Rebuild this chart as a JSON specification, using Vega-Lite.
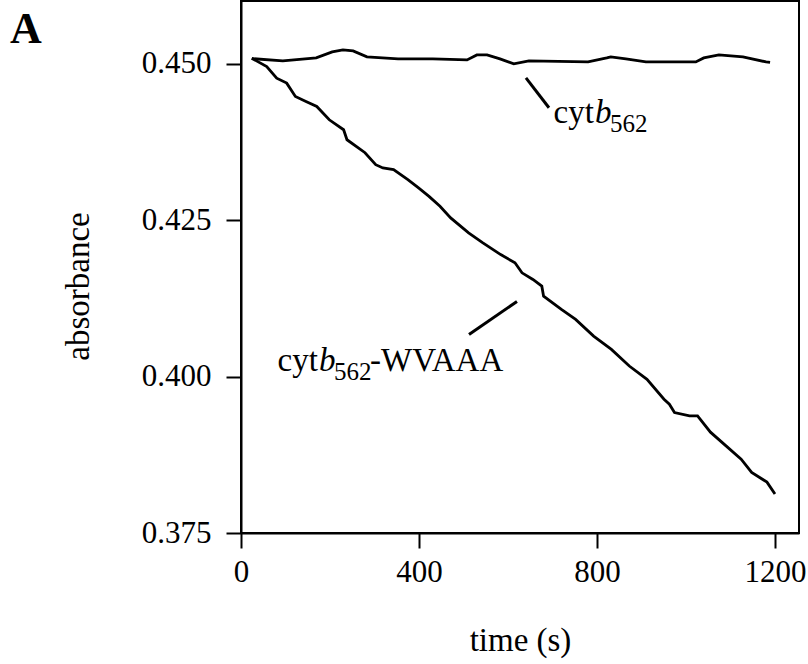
{
  "$schema": "https://vega.github.io/schema/vega-lite/v6.json",
  "autosize": {"type": "none"},
  "padding": {"left": 241, "top": 1, "right": 9, "bottom": 130},
  "width": 558,
  "height": 532,
  "background": "white",
  "config": {
    "view": {"stroke": "black", "strokeWidth": 2},
    "axis": {
      "grid": false,
      "domainColor": "black",
      "domainWidth": 2,
      "tickColor": "black",
      "tickWidth": 2,
      "tickSize": 15,
      "labelColor": "black",
      "labelFont": "Liberation Serif",
      "labelFontSize": 31,
      "titleColor": "black",
      "titleFont": "Liberation Serif",
      "titleFontSize": 33,
      "titleFontWeight": "normal"
    }
  },
  "datasets": {
    "traces": [
      {"s": "cytb562", "t": 24.7, "a": 0.4508},
      {"s": "cytb562", "t": 94, "a": 0.45043},
      {"s": "cytb562", "t": 169, "a": 0.45091},
      {"s": "cytb562", "t": 205, "a": 0.45187},
      {"s": "cytb562", "t": 229, "a": 0.45219},
      {"s": "cytb562", "t": 252, "a": 0.45203},
      {"s": "cytb562", "t": 283, "a": 0.45107},
      {"s": "cytb562", "t": 353, "a": 0.45075},
      {"s": "cytb562", "t": 431, "a": 0.45075},
      {"s": "cytb562", "t": 508, "a": 0.45059},
      {"s": "cytb562", "t": 530, "a": 0.45139},
      {"s": "cytb562", "t": 553, "a": 0.45139},
      {"s": "cytb562", "t": 582, "a": 0.45075},
      {"s": "cytb562", "t": 613, "a": 0.44995},
      {"s": "cytb562", "t": 647, "a": 0.45043},
      {"s": "cytb562", "t": 780, "a": 0.45027},
      {"s": "cytb562", "t": 822, "a": 0.45091},
      {"s": "cytb562", "t": 831, "a": 0.45107},
      {"s": "cytb562", "t": 865, "a": 0.45075},
      {"s": "cytb562", "t": 910, "a": 0.45027},
      {"s": "cytb562", "t": 1022, "a": 0.45027},
      {"s": "cytb562", "t": 1040, "a": 0.45091},
      {"s": "cytb562", "t": 1074, "a": 0.45139},
      {"s": "cytb562", "t": 1128, "a": 0.45107},
      {"s": "cytb562", "t": 1180, "a": 0.45027},
      {"s": "cytb562", "t": 1189, "a": 0.45019},
      {"s": "WVAAA", "t": 24, "a": 0.45086},
      {"s": "WVAAA", "t": 57.8, "a": 0.44952},
      {"s": "WVAAA", "t": 80.2, "a": 0.44767},
      {"s": "WVAAA", "t": 102.7, "a": 0.44688},
      {"s": "WVAAA", "t": 122.2, "a": 0.44474},
      {"s": "WVAAA", "t": 146, "a": 0.44394},
      {"s": "WVAAA", "t": 170.3, "a": 0.44314},
      {"s": "WVAAA", "t": 198.4, "a": 0.44102},
      {"s": "WVAAA", "t": 230.6, "a": 0.43943},
      {"s": "WVAAA", "t": 238.2, "a": 0.43783},
      {"s": "WVAAA", "t": 278.7, "a": 0.43576},
      {"s": "WVAAA", "t": 302.7, "a": 0.43385},
      {"s": "WVAAA", "t": 318.9, "a": 0.43332},
      {"s": "WVAAA", "t": 342.9, "a": 0.43305},
      {"s": "WVAAA", "t": 375, "a": 0.43145},
      {"s": "WVAAA", "t": 399, "a": 0.43013},
      {"s": "WVAAA", "t": 422.5, "a": 0.42879},
      {"s": "WVAAA", "t": 447.2, "a": 0.4272},
      {"s": "WVAAA", "t": 471.2, "a": 0.42535},
      {"s": "WVAAA", "t": 511.5, "a": 0.42295},
      {"s": "WVAAA", "t": 543.6, "a": 0.42136},
      {"s": "WVAAA", "t": 583.6, "a": 0.41949},
      {"s": "WVAAA", "t": 615.7, "a": 0.41817},
      {"s": "WVAAA", "t": 631.5, "a": 0.41657},
      {"s": "WVAAA", "t": 656, "a": 0.41551},
      {"s": "WVAAA", "t": 676, "a": 0.41444},
      {"s": "WVAAA", "t": 680, "a": 0.41284},
      {"s": "WVAAA", "t": 720, "a": 0.41072},
      {"s": "WVAAA", "t": 752, "a": 0.40913},
      {"s": "WVAAA", "t": 792.4, "a": 0.40646},
      {"s": "WVAAA", "t": 832.4, "a": 0.40434},
      {"s": "WVAAA", "t": 872.6, "a": 0.40168},
      {"s": "WVAAA", "t": 912.4, "a": 0.39956},
      {"s": "WVAAA", "t": 950.6, "a": 0.39637},
      {"s": "WVAAA", "t": 962.7, "a": 0.39557},
      {"s": "WVAAA", "t": 974.2, "a": 0.39425},
      {"s": "WVAAA", "t": 1008, "a": 0.39371},
      {"s": "WVAAA", "t": 1026, "a": 0.39371},
      {"s": "WVAAA", "t": 1055, "a": 0.39111},
      {"s": "WVAAA", "t": 1090, "a": 0.38892},
      {"s": "WVAAA", "t": 1124, "a": 0.3868},
      {"s": "WVAAA", "t": 1147.6, "a": 0.38468},
      {"s": "WVAAA", "t": 1182, "a": 0.38313},
      {"s": "WVAAA", "t": 1200, "a": 0.38122}
    ],
    "leaders": [
      {"t": 640.4, "a": 0.44772, "t2": 692.1, "a2": 0.44294},
      {"t": 512.4, "a": 0.40673, "t2": 620.2, "a2": 0.4120}
    ],
    "plain": [
      {"t": 702.5, "a": 0.44054, "label": "cyt"},
      {"t": 82, "a": 0.40083, "label": "cyt"},
      {"t": 290, "a": 0.40083, "label": "-WVAAA"}
    ],
    "italic": [
      {"t": 795.5, "a": 0.44054, "label": "b"},
      {"t": 175.3, "a": 0.40083, "label": "b"}
    ],
    "sub": [
      {"t": 829.2, "a": 0.43911, "label": "562"},
      {"t": 209, "a": 0.3994, "label": "562"}
    ],
    "panel": [
      {"t": -519, "a": 0.4533, "label": "A"}
    ]
  },
  "layer": [
    {
      "data": {"name": "traces"},
      "mark": {"type": "line", "color": "black", "strokeWidth": 2.8, "interpolate": "linear"},
      "encoding": {
        "x": {
          "field": "t", "type": "quantitative",
          "scale": {"domain": [0, 1254], "nice": false, "zero": false},
          "axis": {"values": [0, 400, 800, 1200], "format": "d", "title": "time (s)", "labelPadding": 9,
                   "labelFlush": false, "titleBaseline": "alphabetic", "titleY": 117, "titleX": 279}
        },
        "y": {
          "field": "a", "type": "quantitative",
          "scale": {"domain": [0.375, 0.460], "nice": false, "zero": false},
          "axis": {"values": [0.375, 0.4, 0.425, 0.45], "format": ".3f", "title": "absorbance",
                   "labelPadding": 15, "labelFlush": false, "titleBaseline": "alphabetic",
                   "titleX": -153, "titleY": 285, "titleAngle": 270, "titleAlign": "center"}
        },
        "detail": {"field": "s"}
      }
    },
    {
      "data": {"name": "leaders"},
      "mark": {"type": "rule", "color": "black", "strokeWidth": 3},
      "encoding": {
        "x": {"field": "t", "type": "quantitative"},
        "x2": {"field": "t2"},
        "y": {"field": "a", "type": "quantitative"},
        "y2": {"field": "a2"}
      }
    },
    {
      "data": {"name": "plain"},
      "mark": {"type": "text", "align": "left", "baseline": "alphabetic", "font": "Liberation Serif", "fontSize": 33, "color": "black"},
      "encoding": {
        "x": {"field": "t", "type": "quantitative"},
        "y": {"field": "a", "type": "quantitative"},
        "text": {"field": "label"}
      }
    },
    {
      "data": {"name": "italic"},
      "mark": {"type": "text", "align": "left", "baseline": "alphabetic", "font": "Liberation Serif", "fontStyle": "italic", "fontSize": 33, "color": "black"},
      "encoding": {
        "x": {"field": "t", "type": "quantitative"},
        "y": {"field": "a", "type": "quantitative"},
        "text": {"field": "label"}
      }
    },
    {
      "data": {"name": "sub"},
      "mark": {"type": "text", "align": "left", "baseline": "alphabetic", "font": "Liberation Serif", "fontSize": 25, "color": "black"},
      "encoding": {
        "x": {"field": "t", "type": "quantitative"},
        "y": {"field": "a", "type": "quantitative"},
        "text": {"field": "label"}
      }
    },
    {
      "data": {"name": "panel"},
      "mark": {"type": "text", "align": "left", "baseline": "alphabetic", "font": "Liberation Serif", "fontWeight": "bold", "fontSize": 44, "color": "black"},
      "encoding": {
        "x": {"field": "t", "type": "quantitative"},
        "y": {"field": "a", "type": "quantitative"},
        "text": {"field": "label"}
      }
    }
  ]
}
